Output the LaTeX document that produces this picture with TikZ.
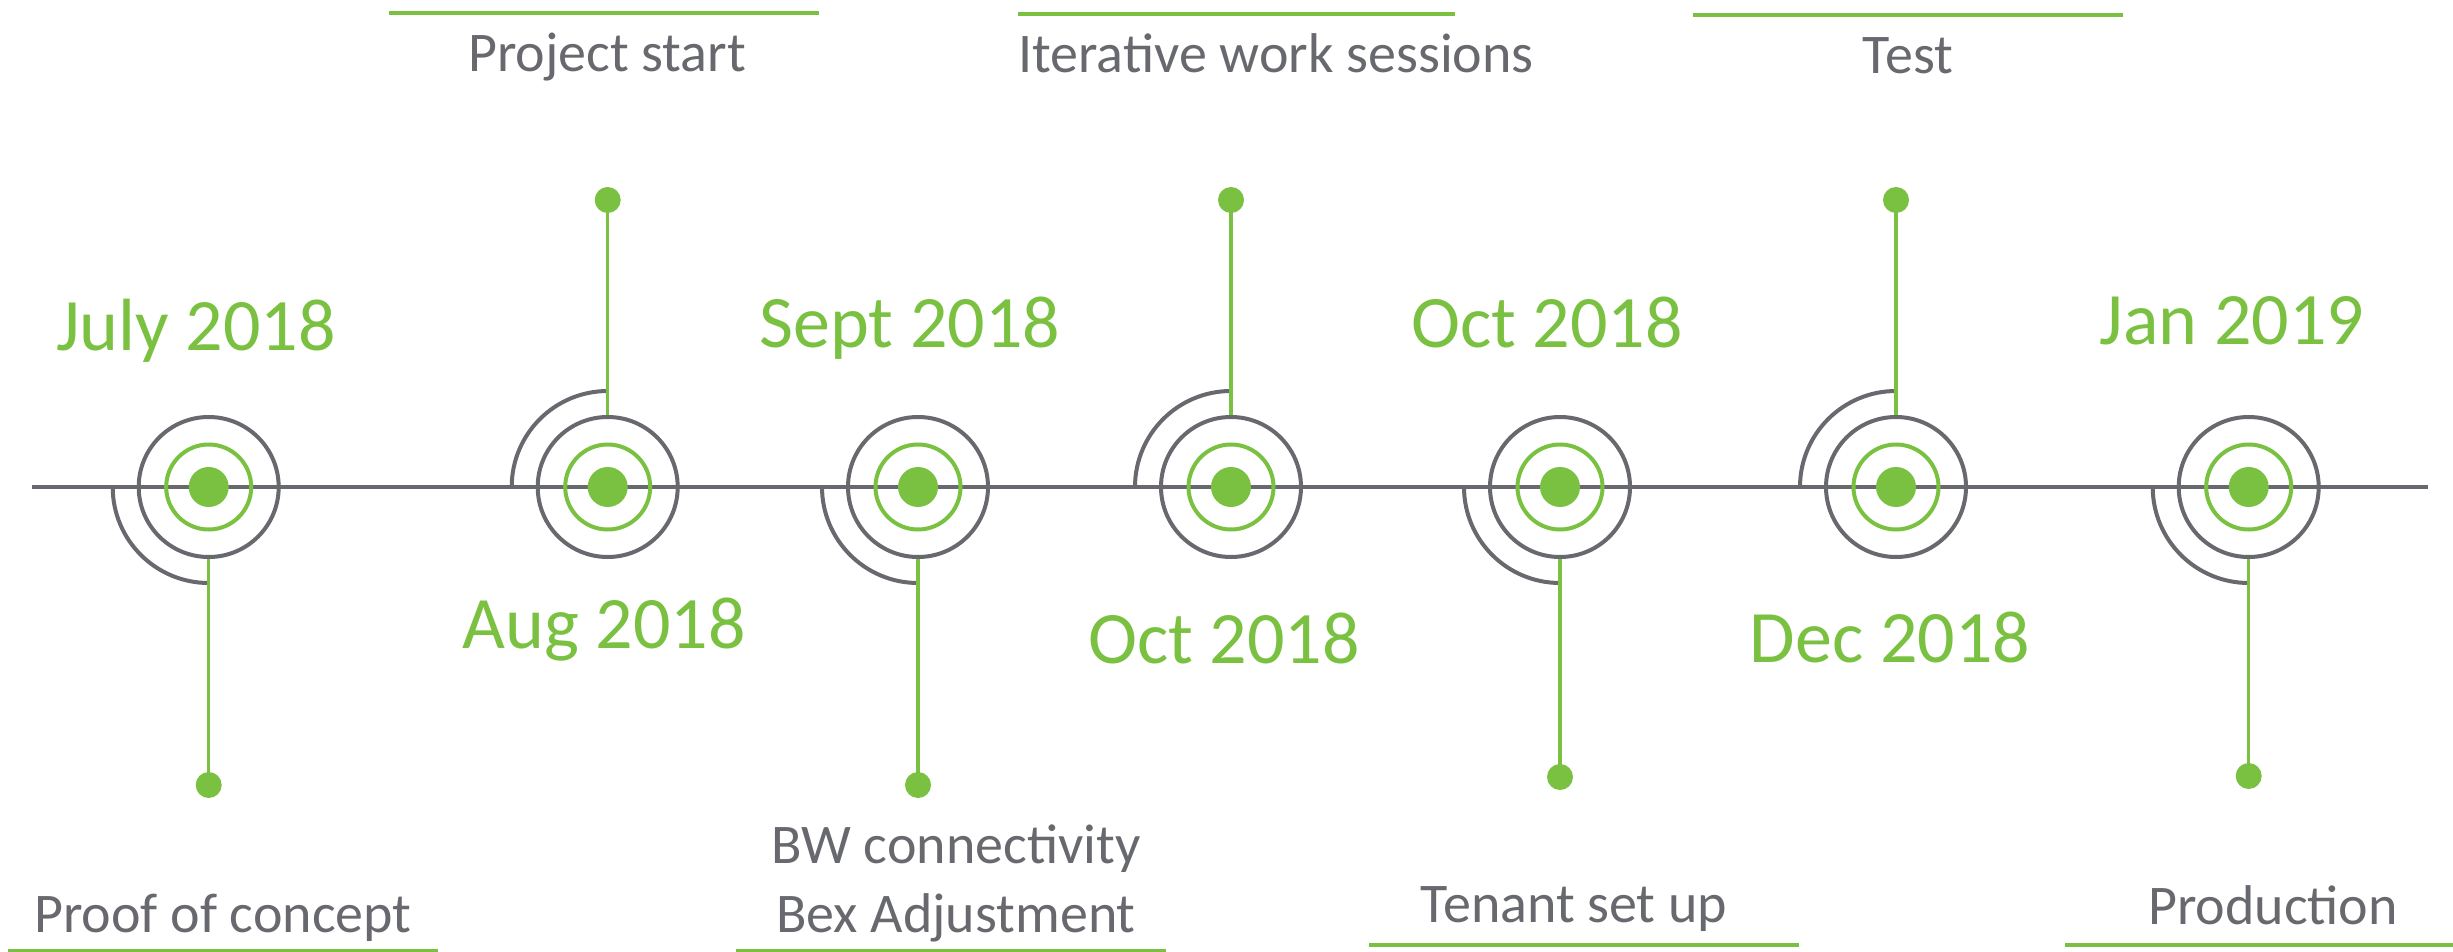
\documentclass[tikz,border=0pt]{standalone}
\usepackage{fontspec}
\setmainfont{Carlito}
\definecolor{tlgreen}{RGB}{122,193,66}
\definecolor{tlgray}{RGB}{104,105,110}
\begin{document}
\begin{tikzpicture}[x=1pt,y=-1pt,
  axis/.style={draw=tlgray,line width=4pt},
  ring/.style={circle,draw=tlgray,line width=4pt,minimum size=140pt,inner sep=0pt},
  gring/.style={circle,draw=tlgreen,line width=4pt,minimum size=85pt,inner sep=0pt},
  core/.style={circle,fill=tlgreen,minimum size=40pt,inner sep=0pt},
  tipdot/.style={circle,fill=tlgreen,minimum size=26pt,inner sep=0pt},
  stem/.style={draw=tlgreen,line width=3.5pt},
  halfring/.style={draw=tlgray,line width=4pt},
  datelbl/.style={text=tlgreen,font=\fontsize{74}{80}\selectfont,anchor=base,inner sep=0pt},
  desc/.style={text=tlgray,font=\fontsize{56}{64}\selectfont,anchor=base,inner sep=0pt},
  bar/.style={draw=tlgreen,line width=4pt}]
\useasboundingbox (0,0) rectangle (2453,952);

% axis
\coordinate (axL) at (32,487);
\coordinate (axR) at (2428,487);
\draw[axis] (axL) -- (axR);

% milestones
\foreach \n/\x in {m1/208.7,m2/607.7,m3/918,m4/1231,m5/1560,m6/1896,m7/2248.7}{
  \node[ring] (\n r) at (\x,487) {};
  \node[gring] (\n g) at (\x,487) {};
  \node[core] (\n c) at (\x,487) {};
}

% lower-left arcs and downward stems
\foreach \n/\y in {m1/785,m3/785,m5/777,m7/776}{
  \draw[halfring] ([xshift=-96pt]\n c.center) arc[start angle=180,end angle=270,radius=96pt];
  \path (\n c.center) ++(0,\y-487) node[tipdot] (\n t) {};
  \draw[stem] (\n r.south) -- (\n t.center);
}
% upper-left arcs and upward stems
\foreach \n in {m2,m4,m6}{
  \draw[halfring] ([xshift=-96pt]\n c.center) arc[start angle=180,end angle=90,radius=96pt];
  \path (\n c.center) ++(0,-287) node[tipdot] (\n t) {};
  \draw[stem] (\n r.north) -- (\n t.center);
}

% dates
\node[datelbl] (d1) at (196,350) {July 2018};
\node[datelbl] (d2) at (604,648) {Aug 2018};
\node[datelbl] (d3) at (910,347) {Sept 2018};
\node[datelbl] (d4) at (1224,663) {Oct 2018};
\node[datelbl] (d5) at (1547,347) {Oct 2018};
\node[datelbl] (d6) at (1890,662) {Dec 2018};
\node[datelbl] (d7) at (2232,344) {Jan 2019};

% top descriptions
\node[desc] (p2) at (607,72) {Project start};
\node[desc] (p4) at (1276,73) {Iterative work sessions};
\node[desc] (p6) at (1908,74) {Test};
\coordinate (b2a) at (389,13);  \coordinate (b2b) at (819,13);
\coordinate (b4a) at (1018,14); \coordinate (b4b) at (1455,14);
\coordinate (b6a) at (1693,15); \coordinate (b6b) at (2123,15);
\draw[bar] (b2a) -- (b2b);
\draw[bar] (b4a) -- (b4b);
\draw[bar] (b6a) -- (b6b);

% bottom descriptions
\node[desc] (p1) at (223,932) {Proof of concept};
\node[desc] (p3a) at (956,863) {BW connectivity};
\node[desc] (p3b) at (956,932) {Bex Adjustment};
\node[desc] (p5) at (1574,922) {Tenant set up};
\node[desc] (p7) at (2273,924) {Production};
\coordinate (b1a) at (8,951);    \coordinate (b1b) at (438,951);
\coordinate (b3a) at (736,951);  \coordinate (b3b) at (1166,951);
\coordinate (b5a) at (1369,945); \coordinate (b5b) at (1799,945);
\coordinate (b7a) at (2065,945); \coordinate (b7b) at (2453,945);
\draw[bar] (b1a) -- (b1b);
\draw[bar] (b3a) -- (b3b);
\draw[bar] (b5a) -- (b5b);
\draw[bar] (b7a) -- (b7b);
\end{tikzpicture}
\end{document}
